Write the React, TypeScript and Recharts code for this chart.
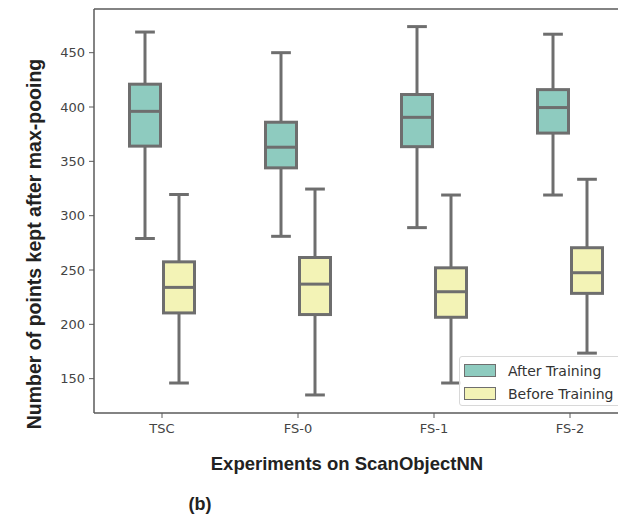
import React from "react";
import { ComposedChart, Bar, XAxis, YAxis, ReferenceLine, Customized } from "recharts";

const categories = ["TSC", "FS-0", "FS-1", "FS-2"];

const afterMin = [279, 281, 289, 319];
const afterQ1 = [364, 344, 363.5, 376];
const afterMedian = [396, 363, 390.5, 399.5];
const afterQ3 = [421, 386, 411.5, 416];
const afterMax = [469, 450, 474, 467];

const beforeMin = [146, 135, 146, 173.5];
const beforeQ1 = [210.5, 209, 206.5, 228.5];
const beforeMedian = [234, 237, 230, 247.5];
const beforeQ3 = [257.5, 261.5, 252, 270.5];
const beforeMax = [319.5, 324.5, 319, 333.5];

const yTicks = [150, 200, 250, 300, 350, 400, 450];
const yDomain = [118.4, 490.2];

const seriesNames = ["After Training", "Before Training"];
const seriesColors = ["#8ecbbf", "#f3f3b6"];
const edge = "#6e6e6e";

const data = categories.map((name, i) => ({
  name,
  after: [afterMin[i], afterMax[i]],
  before: [beforeMin[i], beforeMax[i]],
  afterStats: { min: afterMin[i], q1: afterQ1[i], med: afterMedian[i], q3: afterQ3[i], max: afterMax[i] },
  beforeStats: { min: beforeMin[i], q1: beforeQ1[i], med: beforeMedian[i], q3: beforeQ3[i], max: beforeMax[i] },
}));

function BoxShape(props: any) {
  const { x, y, width, height, payload, statsKey, color } = props;
  const s = payload[statsKey];
  const top = Math.min(y, y + height);
  const bot = Math.max(y, y + height);
  const k = (bot - top) / (s.max - s.min);
  const py = (v: number) => top + (s.max - v) * k;
  const cx = x + width / 2;
  const cap = width * 0.29;
  return (
    <g stroke={edge} strokeWidth={3} fill="none">
      <line x1={cx} x2={cx} y1={py(s.max)} y2={py(s.q3)} />
      <line x1={cx} x2={cx} y1={py(s.q1)} y2={py(s.min)} />
      <line x1={cx - cap} x2={cx + cap} y1={py(s.max)} y2={py(s.max)} />
      <line x1={cx - cap} x2={cx + cap} y1={py(s.min)} y2={py(s.min)} />
      <rect x={x + 1.5} y={py(s.q3)} width={width - 3} height={py(s.q1) - py(s.q3)} fill={color} />
      <line x1={x + 1.5} x2={x + width - 1.5} y1={py(s.med)} y2={py(s.med)} />
    </g>
  );
}

function Labels() {
  return (
    <g fontFamily="'Liberation Sans', Arial, sans-serif" fontWeight="bold" fill="#222">
      <text x={347} y={470} fontSize={18.5} textAnchor="middle">Experiments on ScanObjectNN</text>
      <text x={200} y={510} fontSize={18} textAnchor="middle">(b)</text>
      <text x={41} y={244} fontSize={19.5} textAnchor="middle" transform="rotate(-90 41 244)">
        Number of points kept after max-pooing
      </text>
    </g>
  );
}

function LegendBox() {
  return (
    <div
      style={{
        position: "absolute",
        left: 459,
        top: 356,
        width: 180,
        height: 50,
        border: "1px solid #d8d8d8",
        borderRadius: 3,
        background: "rgba(255,255,255,0.85)",
        fontFamily: "'DejaVu Sans', sans-serif",
        fontSize: 14,
        color: "#333",
        boxSizing: "border-box",
        paddingTop: 2,
      }}
    >
      {seriesNames.map((n, i) => (
        <div key={n} style={{ display: "flex", alignItems: "center", height: 23 }}>
          <span
            style={{
              display: "inline-block",
              width: 30,
              height: 11,
              marginLeft: 4,
              marginRight: 12,
              background: seriesColors[i],
              border: "1.5px solid " + edge,
            }}
          />
          <span style={{ whiteSpace: "nowrap" }}>{n}</span>
        </div>
      ))}
    </div>
  );
}

export default function App() {
  return (
    <div style={{ position: "fixed", left: 0, top: 0, width: 618, height: 517, overflow: "hidden", background: "#fff" }}>
      <ComposedChart
        width={660}
        height={517}
        data={data}
        margin={{ top: 9, right: 22, left: 34, bottom: 0 }}
        barGap={0}
        barSize={34}
      >
        <XAxis
          dataKey="name"
          height={104}
          tickSize={5}
          tickMargin={6}
          tick={{ fontSize: 13, fill: "#444", fontFamily: "'DejaVu Sans', sans-serif" }}
          axisLine={{ stroke: "#5a5a5a", strokeWidth: 1.5 }}
          tickLine={{ stroke: "#5a5a5a" }}
        />
        <YAxis
          width={60}
          type="number"
          domain={yDomain}
          ticks={yTicks}
          allowDataOverflow
          tickSize={5}
          tickMargin={4}
          tick={{ fontSize: 13, fill: "#444", fontFamily: "'DejaVu Sans', sans-serif" }}
          axisLine={{ stroke: "#5a5a5a", strokeWidth: 1.5 }}
          tickLine={{ stroke: "#5a5a5a" }}
        />
        <ReferenceLine y={yDomain[1]} stroke="#5a5a5a" strokeWidth={1.5} />
        <Bar
          dataKey="after"
          name={seriesNames[0]}
          isAnimationActive={false}
          shape={(p: any) => <BoxShape {...p} statsKey="afterStats" color={seriesColors[0]} />}
        />
        <Bar
          dataKey="before"
          name={seriesNames[1]}
          isAnimationActive={false}
          shape={(p: any) => <BoxShape {...p} statsKey="beforeStats" color={seriesColors[1]} />}
        />
        <Customized component={Labels} />
      </ComposedChart>
      <LegendBox />
    </div>
  );
}
